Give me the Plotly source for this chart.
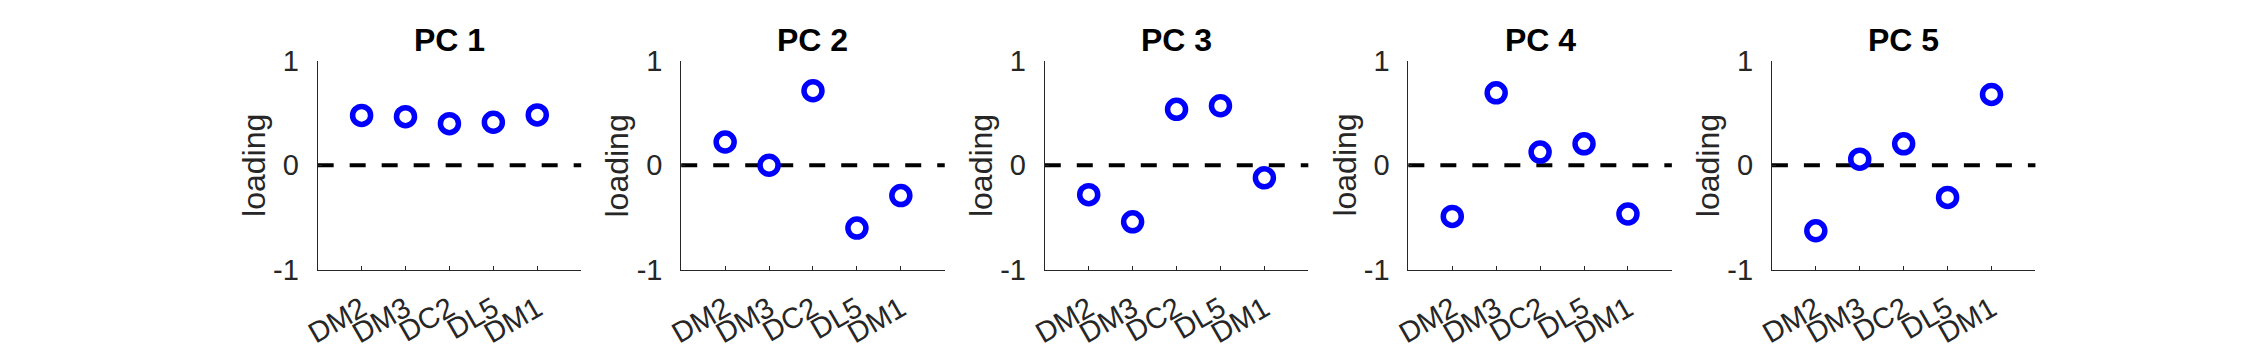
import plotly.graph_objects as go

categories = ["DM2", "DM3", "DC2", "DL5", "DM1"]
positions = [1, 2, 3, 4, 5]
panel_titles = ["PC 1", "PC 2", "PC 3", "PC 4", "PC 5"]

pc1 = [0.477, 0.465, 0.398, 0.412, 0.482]
pc2 = [0.222, 0.000, 0.713, -0.602, -0.291]
pc3 = [-0.282, -0.542, 0.535, 0.570, -0.121]
pc4 = [-0.490, 0.693, 0.126, 0.205, -0.467]
pc5 = [-0.628, 0.058, 0.205, -0.308, 0.678]
loadings = [pc1, pc2, pc3, pc4, pc5]

y_ticks = [-1, 0, 1]
y_tick_text = ["-1", "0", "1"]

W, H = 2248, 352
left0, width, step = 304.7, 265.3, 366.0
top_px, bot_px = 49.3, 279.0

FONT = "Liberation Sans, Arial, Helvetica, sans-serif"
AX = "#262626"

fig = go.Figure()
annotations = []
shapes = []
for i, vals in enumerate(loadings):
    n = "" if i == 0 else str(i + 1)
    x0 = (left0 + step * i) / W
    x1 = (left0 + width + step * i) / W
    fig.add_trace(go.Scatter(
        x=positions, y=vals, mode="markers",
        marker=dict(symbol="circle-open", size=18, color="#0000FF",
                    line=dict(width=5.5, color="#0000FF")),
        xaxis="x" + n, yaxis="y" + n, showlegend=False, cliponaxis=False))
    fig.update_layout(**{
        "xaxis" + n: dict(
            domain=[x0, x1], range=[0, 6], anchor="y" + n,
            tickvals=positions, ticktext=categories, tickangle=-30,
            showline=True, linecolor=AX, linewidth=1, ticks="inside",
            ticklen=4, tickcolor=AX, showgrid=False, zeroline=False,
            tickfont=dict(family=FONT, size=29, color=AX),
            ticklabelstandoff=10, fixedrange=True),
        "yaxis" + n: dict(
            domain=[1 - bot_px / H, 1 - top_px / H], range=[-1, 1],
            anchor="x" + n, tickvals=y_ticks, ticktext=y_tick_text,
            showline=True, linecolor=AX, linewidth=1, ticks="inside",
            ticklen=4, tickcolor=AX, showgrid=False, zeroline=False,
            tickfont=dict(family=FONT, size=29, color=AX),
            ticklabelstandoff=12, fixedrange=True),
    })
    shapes.append(dict(type="line", xref="x" + n + " domain", yref="y" + n,
                       x0=0, x1=1, y0=0, y1=0, layer="below",
                       line=dict(color="black", width=4, dash="16px,16px")))
    annotations.append(dict(text="<b>" + panel_titles[i] + "</b>", xref="paper", yref="paper",
                            x=(x0 + x1) / 2, y=1 - 26 / H, xanchor="center", yanchor="middle",
                            showarrow=False, font=dict(family=FONT, size=32, color="black")))
    annotations.append(dict(text="loading", xref="paper", yref="paper",
                            x=(240 + step * i) / W, y=1 - 164.5 / H, textangle=-90,
                            xanchor="center", yanchor="middle", showarrow=False,
                            font=dict(family=FONT, size=32, color=AX)))

fig.update_layout(width=W, height=H, margin=dict(l=0, r=0, t=0, b=0),
                  paper_bgcolor="white", plot_bgcolor="white",
                  annotations=annotations, shapes=shapes)
fig.write_html("out.html")
